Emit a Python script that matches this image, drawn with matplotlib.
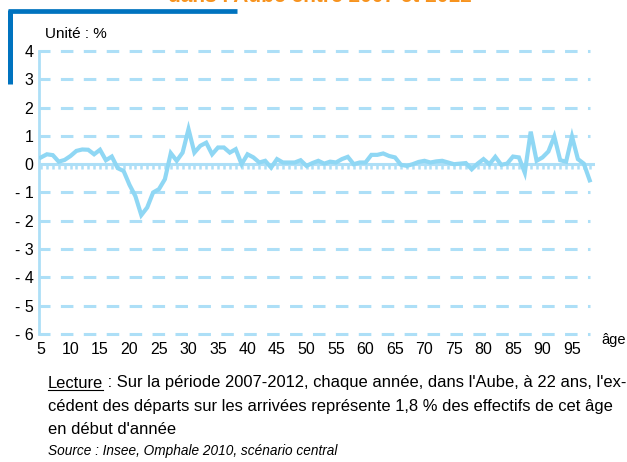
import matplotlib
matplotlib.use("Agg")
import matplotlib.pyplot as plt
from matplotlib.lines import Line2D

plt.rcParams['font.family'] = ['Liberation Sans', 'DejaVu Sans']

# solde migratoire annuel par age, en %
ages = list(range(5, 99))
solde = [0.24, 0.35, 0.32, 0.09, 0.15, 0.29, 0.47, 0.52, 0.51, 0.35,
         0.51, 0.14, 0.27, -0.14, -0.24, -0.73, -1.13, -1.80, -1.53, -1.00,
         -0.88, -0.53, 0.39, 0.12, 0.41, 1.24, 0.41, 0.65, 0.76, 0.35,
         0.59, 0.59, 0.41, 0.53, 0.00, 0.35, 0.24, 0.06, 0.12, -0.12,
         0.18, 0.06, 0.06, 0.06, 0.14, -0.06, 0.04, 0.12, 0.02, 0.09,
         0.06, 0.18, 0.26, 0.00, 0.06, 0.06, 0.33, 0.33, 0.38, 0.29,
         0.24, -0.02, -0.06, 0.00, 0.08, 0.12, 0.06, 0.10, 0.12, 0.06,
         0.00, 0.02, 0.04, -0.18, 0.02, 0.18, 0.00, 0.26, -0.02, 0.02,
         0.27, 0.24, -0.30, 1.15, 0.12, 0.24, 0.45, 0.98, 0.14, 0.09,
         0.98, 0.18, 0.02, -0.57]

yticks = list(range(-6, 5))
ylabels = ['- 6', '- 5', '- 4', '- 3', '- 2', '- 1', '0', '1', '2', '3', '4']
xticks = list(range(5, 100, 5))

titre = "dans l'Aube entre 2007 et 2012"
lecture = (" : Sur la période 2007-2012, chaque année, dans l'Aube, à 22 ans, l'ex-",
           "cédent des départs sur les arrivées représente 1,8 % des effectifs de cet âge",
           "en début d'année")
source = "Source : Insee, Omphale 2010, scénario central"

W, H = 627, 462
line_col = '#8fd7f4'
grid_col = '#addff7'
blue = '#0073bf'

def fx(px):
    return px / W

def fy(py):
    return 1 - py / H

fig = plt.figure(figsize=(W / 100, H / 100), dpi=100)
ax = fig.add_axes([fx(39), fy(334), fx(595 - 39), (334 - 51) / H])

x0 = 5 - 2 / 5.9
x1 = x0 + 556 / 5.9
ax.set_xlim(x0, x1)
ax.set_ylim(-6, 4)

# grille pointillee
for v in yticks:
    if v == 0:
        continue
    ax.hlines(v, x0, 98.1, colors=grid_col, lw=2.2, linestyles=(0.5, (4.1, 3.4)),
              clip_on=False, zorder=1)
ax.hlines(0, x0, x1, colors=grid_col, lw=2.2, zorder=1)
ax.vlines(ages + [99], -0.17, 0, colors=grid_col, lw=1.8, zorder=1)

ax.plot(ages, solde, color=line_col, lw=3.0, solid_joinstyle='miter', zorder=3)

for s in ['top', 'right', 'bottom']:
    ax.spines[s].set_visible(False)
ax.spines['left'].set_color(grid_col)
ax.spines['left'].set_linewidth(2)

ax.set_yticks(yticks)
ax.set_yticklabels(ylabels)
ax.set_xticks(xticks)
ax.tick_params(axis='both', length=0, labelsize=11.5)
ax.tick_params(axis='y', pad=4)
ax.tick_params(axis='x', pad=6)

fig.text(fx(45), fy(34), "Unité : %", fontsize=11, va='center', ha='left')
fig.text(fx(601), fy(340), "âge", fontsize=10.5, va='center', ha='left')

# cadre bleu et titre coupe (comme sur l'original)
fig.add_artist(Line2D([fx(9.5), fx(9.5)], [fy(84), fy(9.5)], color=blue, lw=3.6,
                      solid_capstyle='butt'))
fig.add_artist(Line2D([fx(7.5), fx(237)], [fy(11), fy(11)], color=blue, lw=3.4,
                      solid_capstyle='butt'))
fig.text(fx(320), fy(2.5), titre, color='#f7931e', fontsize=15, fontweight='bold',
         ha='center', va='baseline')

# texte de lecture
fs = 11.9
t = fig.text(fx(48), fy(383), "Lecture", fontsize=fs, va='center', ha='left')
fig.canvas.draw()
bb = t.get_window_extent()
fig.add_artist(Line2D([bb.x0 / W, bb.x1 / W], [(bb.y0 + 1) / H, (bb.y0 + 1) / H],
                      color='black', lw=0.8))
fig.text(bb.x1 / W, fy(383), lecture[0], fontsize=fs, va='center', ha='left')
fig.text(fx(48), fy(406), lecture[1], fontsize=fs, va='center', ha='left')
fig.text(fx(48), fy(429), lecture[2], fontsize=fs, va='center', ha='left')
fig.text(fx(48), fy(451), source, fontsize=9.8, style='italic', va='center', ha='left')

fig.savefig("out.png", dpi=100)
